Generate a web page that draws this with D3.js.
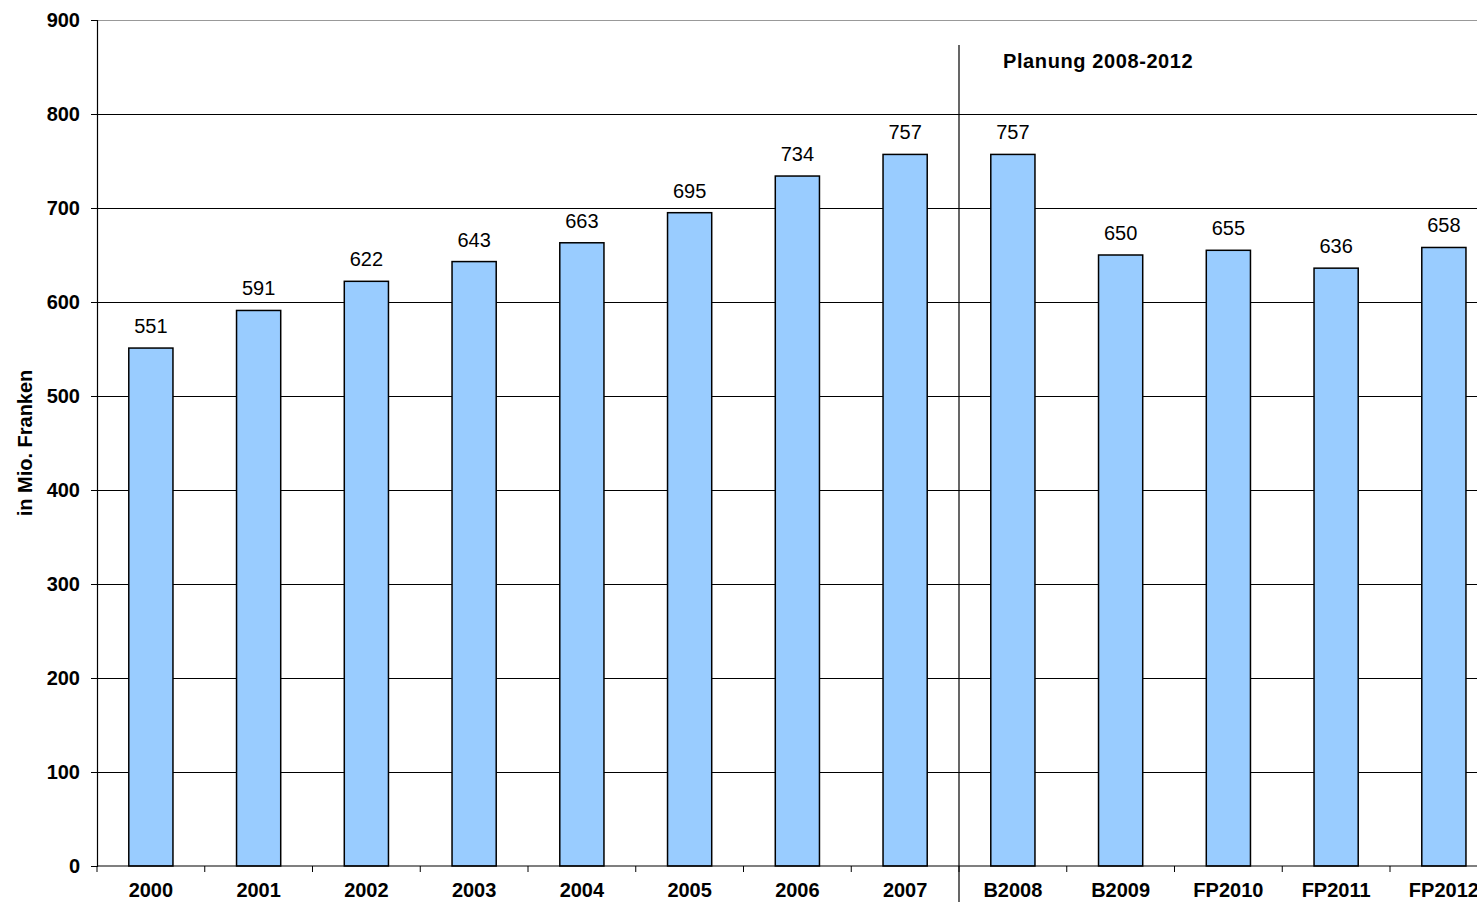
<!DOCTYPE html>
<html><head><meta charset="utf-8">
<script src="https://cdn.jsdelivr.net/npm/d3@7"></script>
<style>body{margin:0;background:#fff}svg{display:block}text{font-family:"Liberation Sans",Arial,sans-serif}</style>
</head><body>
<svg id="c" width="1477" height="902"></svg>
<script>
const categories = ["2000","2001","2002","2003","2004","2005","2006","2007","B2008","B2009","FP2010","FP2011","FP2012"];
const values = [551,591,622,643,663,695,734,757,757,650,655,636,658];
const yTicks = [0,100,200,300,400,500,600,700,800,900];
const annotation = "Planung 2008-2012";
const yTitle = "in Mio. Franken";

const svg = d3.select("#c");
const mLeft = 97, mTop = 20, mBottom = 866, mRight = 97 + 13*107.75;
const x = d3.scaleBand().domain(categories).range([mLeft, mRight]).paddingInner(0.59).paddingOuter(0.295);
const y = d3.scaleLinear().domain([0,900]).range([mBottom, mTop]);

// gridlines
svg.append("g").selectAll("line").data(yTicks.filter(d=>d>0)).join("line")
  .attr("x1", mLeft).attr("x2", 1477).attr("y1", d=>Math.round(y(d))+0.5).attr("y2", d=>Math.round(y(d))+0.5)
  .attr("stroke", d=> d===900 ? "#999" : "#000").attr("stroke-width", 1);

// divider line
const step = x.step();
const divX = mLeft + 8*step;
svg.append("line").attr("x1", divX).attr("x2", divX).attr("y1", 45).attr("y2", 902)
  .attr("stroke","#000").attr("stroke-width",1.2);
svg.append("text").attr("x", 1003).attr("y", 68).attr("font-size", 20).attr("font-weight","bold")
  .attr("letter-spacing", 0.6).text(annotation);

// bars
svg.append("g").selectAll("rect").data(values).join("rect")
  .attr("x", (d,i)=>x(categories[i])).attr("width", x.bandwidth())
  .attr("y", d=>y(d)).attr("height", d=>mBottom - y(d))
  .attr("fill","#99CCFF").attr("stroke","#000").attr("stroke-width",1.5);

// labels
svg.append("g").selectAll("text").data(values).join("text")
  .attr("x", (d,i)=>x(categories[i]) + x.bandwidth()/2).attr("y", d=>y(d) - 15)
  .attr("text-anchor","middle").attr("font-size", 20).text(d=>d);

// y axis
const yAxis = d3.axisLeft(y).tickValues(yTicks).tickSize(6).tickPadding(11);
const gy = svg.append("g").attr("transform", `translate(${mLeft},0)`).call(yAxis);
gy.select(".domain").attr("stroke","#000").attr("stroke-width",1.2);
gy.selectAll(".tick line").attr("stroke","#000");
gy.selectAll("text").attr("font-size",20).attr("font-weight","bold").attr("fill","#000")
  .style("font-family",'"Liberation Sans",Arial,sans-serif');

// x axis
const xTickScale = d3.scaleLinear().domain([0,13]).range([mLeft, mRight]);
const gx = svg.append("g");
gx.append("line").attr("x1", mLeft).attr("x2", 1477).attr("y1", mBottom).attr("y2", mBottom).attr("stroke","#000").attr("stroke-width",1.2);
gx.selectAll("line.t").data(d3.range(0,14)).join("line").attr("class","t")
  .attr("x1", d=>xTickScale(d)).attr("x2", d=>xTickScale(d)).attr("y1", mBottom).attr("y2", mBottom+6).attr("stroke","#000");
gx.selectAll("text").data(categories).join("text")
  .attr("x", d=>x(d)+x.bandwidth()/2).attr("y", 897).attr("text-anchor","middle")
  .attr("font-size",20).attr("font-weight","bold").text(d=>d);

// y title
svg.append("text").attr("transform","translate(32,443) rotate(-90)").attr("text-anchor","middle")
  .attr("font-size",20).attr("font-weight","bold").text(yTitle);
</script>
</body></html>
